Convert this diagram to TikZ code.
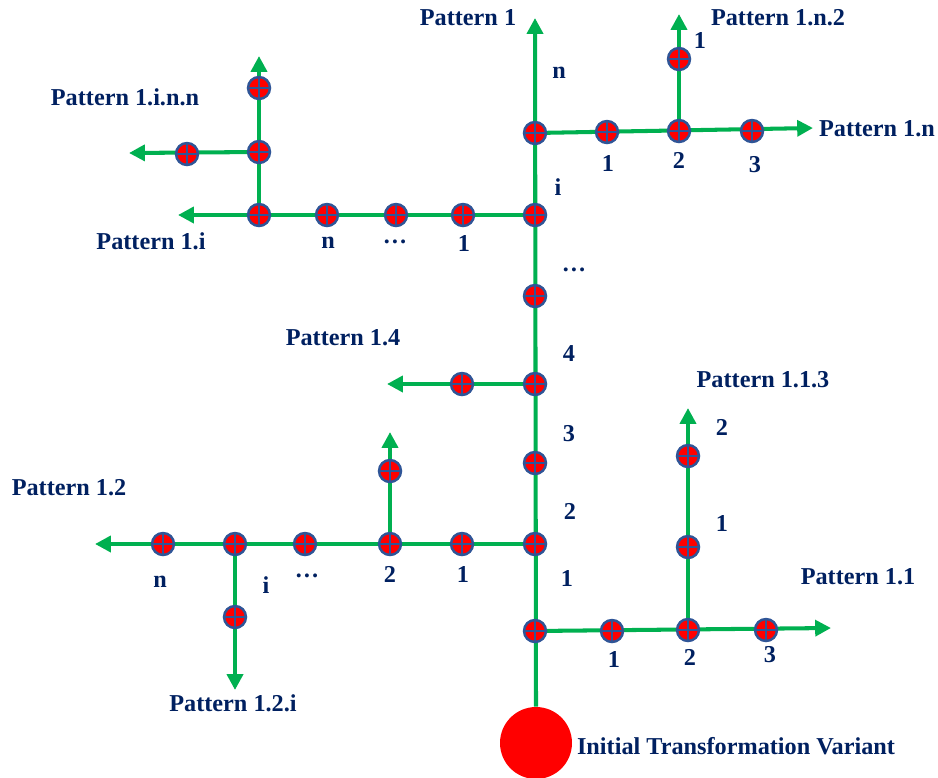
\documentclass[tikz,border=0pt]{standalone}
\usepackage{fontspec}
\setmainfont{Liberation Serif}
\usetikzlibrary{arrows.meta,positioning}

\definecolor{pathgreen}{RGB}{0,176,80}
\definecolor{markblue}{RGB}{47,85,151}
\definecolor{labelnavy}{RGB}{0,32,96}

\tikzset{
  variant/.style={circle, fill=red, draw=markblue, line width=1.4pt,
    minimum size=0.44cm, inner sep=0pt,
    path picture={\draw[markblue, line width=1.2pt]
      (path picture bounding box.north) -- (path picture bounding box.south)
      (path picture bounding box.west) -- (path picture bounding box.east);}},
  route/.style={draw=pathgreen, line width=2.3pt},
  route arrow/.style={route, -{Triangle[length=9pt,width=9pt]}},
  lbl/.style={font=\bfseries\fontsize{13.8}{16}\selectfont, text=labelnavy, inner sep=1pt}
}

\begin{document}
\begin{tikzpicture}[x=0.02cm, y=-0.02cm]
\useasboundingbox (0,0) rectangle (938,778);
\clip (0,0) rectangle (938,778);

% Initial variant
\node[circle, fill=red, minimum size=1.44cm, inner sep=0pt] (root) at (536,743) {};
\node[lbl] (rootlbl) at (736,746) {Initial Transformation Variant};

% Trunk end points
\coordinate (e1) at (535,18);
\coordinate (e11) at (831,628);
\coordinate (e113) at (688,408);
\coordinate (e12) at (95,544);
\coordinate (e12up) at (390,432);
\coordinate (e12i) at (235,690);
\coordinate (e14) at (387,384);
\coordinate (e1i) at (178,215);
\coordinate (e1iup) at (259,56);
\coordinate (e1inn) at (129,153);
\coordinate (e1n) at (813,128);
\coordinate (e1n2) at (679,14);

% Green routes
\draw[route arrow] (root.north) -- (e1);
\draw[route arrow] (535,631) -- (e11);
\draw[route arrow] (688,630) -- (e113);
\draw[route arrow] (535,544) -- (e12);
\draw[route arrow] (390,544) -- (e12up);
\draw[route arrow] (235,544) -- (e12i);
\draw[route arrow] (535,384) -- (e14);
\draw[route arrow] (535,215) -- (e1i);
\draw[route arrow] (259,215) -- (e1iup);
\draw[route arrow] (259,152) -- (e1inn);
\draw[route arrow] (535,133) -- (e1n);
\draw[route arrow] (679,131) -- (e1n2);

% Trunk variants
\foreach \n/\y in {1/631, 2/544, 3/463, 4/384, 5/296, 6/215, 7/133} {
  \node[variant] (m\n) at (535,\y) {};
}

% Branch 1.1
\node[variant] (a1) at (612,631) {};
\node[variant] (a2) at (688,630) {};
\node[variant] (a3) at (766,630) {};
\node[variant] (a4) at (688,547) {};
\node[variant] (a5) at (688,456) {};

% Branch 1.2
\foreach \n/\x in {1/462, 2/390, 3/305, 4/235, 5/163} {
  \node[variant] (b\n) at (\x,544) {};
}
\node[variant] (b6) at (390,471) {};
\node[variant] (b7) at (235,617) {};

% Branch 1.4
\node[variant] (c1) at (462,384) {};

% Branch 1.i
\foreach \n/\x in {1/463, 2/396, 3/327, 4/259} {
  \node[variant] (d\n) at (\x,215) {};
}
\node[variant] (d5) at (259,152) {};
\node[variant] (d6) at (259,88) {};
\node[variant] (d7) at (187,154) {};

% Branch 1.n
\node[variant] (f1) at (607,132) {};
\node[variant] (f2) at (679,131) {};
\node[variant] (f3) at (752,131) {};
\node[variant] (f4) at (679,59) {};

% Step labels
\node[lbl] (lm1) at (567,578) {1};
\node[lbl] (lm2) at (570,511) {2};
\node[lbl] (lm3) at (569,434) {3};
\node[lbl] (lm4) at (569,354) {4};
\node[lbl] (lm5) at (574,270) {\dots};
\node[lbl] (lm6) at (558,187) {i};
\node[lbl] (lm7) at (559,73) {n};

\node[lbl] (la1) at (614,659) {1};
\node[lbl] (la2) at (690,657) {2};
\node[lbl] (la3) at (770,655) {3};
\node[lbl] (la4) at (722,523) {1};
\node[lbl] (la5) at (722,427) {2};

\node[lbl] (lb1) at (463,574) {1};
\node[lbl] (lb2) at (390,574) {2};
\node[lbl] (lb3) at (307,576) {\dots};
\node[lbl] (lb4) at (266,585) {i};
\node[lbl] (lb5) at (160,582) {n};

\node[lbl] (ld1) at (464,243) {1};
\node[lbl] (ld2) at (395,242) {\dots};
\node[lbl] (ld3) at (328,243) {n};

\node[lbl] (lf1) at (608,163) {1};
\node[lbl] (lf2) at (679,160) {2};
\node[lbl] (lf3) at (755,165) {3};
\node[lbl] (lf4) at (700,40) {1};

% Pattern names
\node[lbl] (p1) at (468,18) {Pattern 1};
\node[lbl] (p1n2) at (778,18) {Pattern 1.n.2};
\node[lbl] (p1inn) at (125,97) {Pattern 1.i.n.n};
\node[lbl] (p1n) at (877,129) {Pattern 1.n};
\node[lbl] (p1i) at (151,241) {Pattern 1.i};
\node[lbl] (p14) at (343,338) {Pattern 1.4};
\node[lbl] (p113) at (763,380) {Pattern 1.1.3};
\node[lbl] (p12) at (69,488) {Pattern 1.2};
\node[lbl] (p11) at (858,577) {Pattern 1.1};
\node[lbl] (p12i) at (233,703) {Pattern 1.2.i};

\end{tikzpicture}
\end{document}
